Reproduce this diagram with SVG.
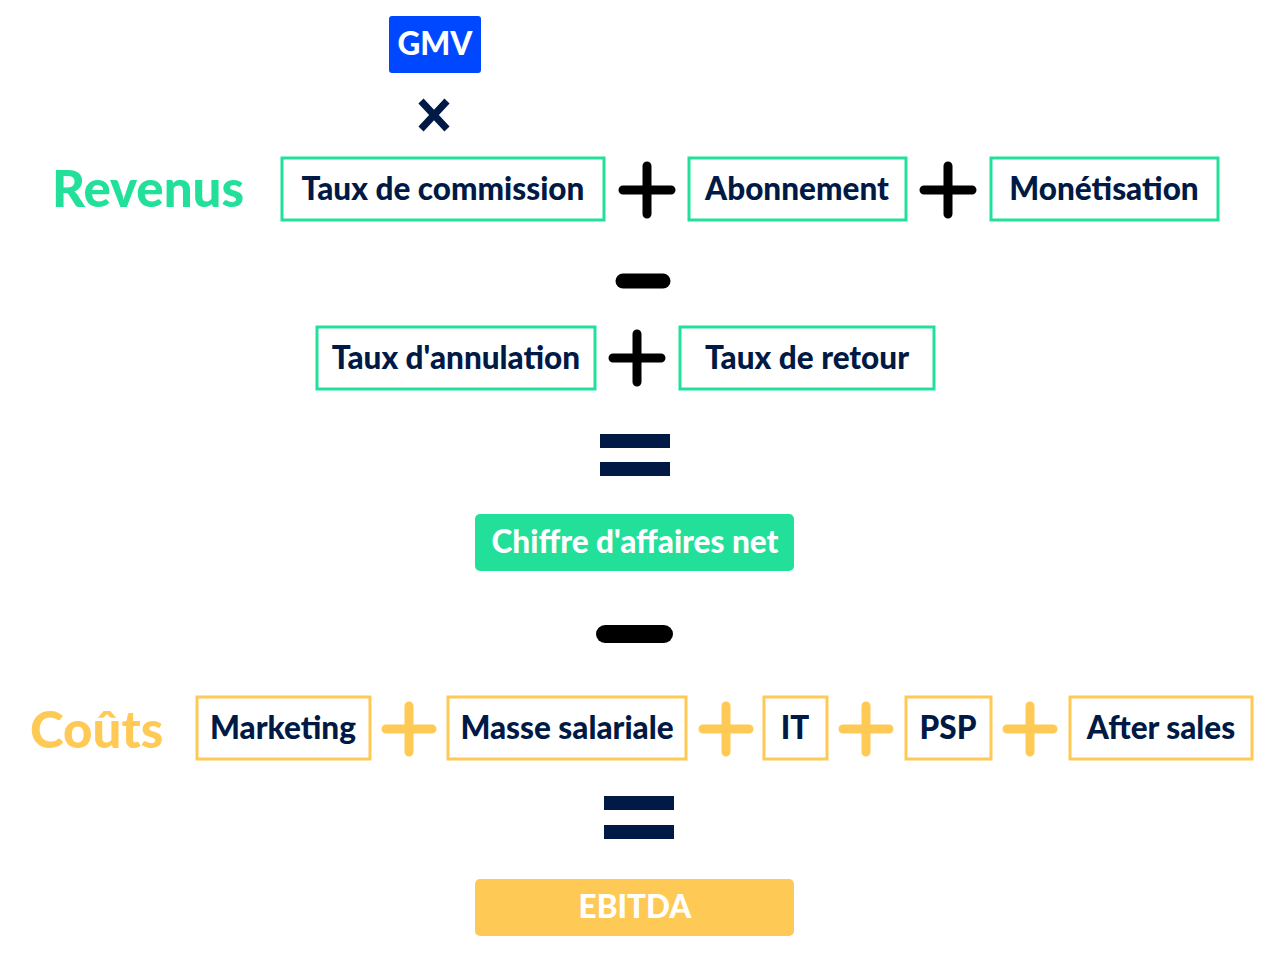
<svg xmlns="http://www.w3.org/2000/svg" width="1272" height="955" viewBox="0 0 1272 955">
<style>
text{font-family:Lato,"Open Sans",sans-serif;font-weight:900;text-anchor:middle}
.t{font-size:31.5px;fill:#001A45}
.g{fill:#fff;stroke:#22E09A;stroke-width:3}
.y{fill:#fff;stroke:#FFC955;stroke-width:3}
.pk{stroke:#000;stroke-width:9;stroke-linecap:round}
.py{stroke:#FFC955;stroke-width:9;stroke-linecap:round}
.big{font-size:51px;text-anchor:start}
</style>
<rect width="1272" height="955" fill="#fff"/>
<g id="gmv"><rect x="389" y="16" width="92" height="57" rx="3" fill="#0048FF"/><text x="435" y="55" class="t" style="fill:#fff">GMV</text></g>
<g id="ops">
<path d="M421 101L447 129M447 101L421 129" stroke="#001A45" stroke-width="7"/>
<path class="pk" d="M623 190H671M647 166V214"/>
<path class="pk" d="M924 190H972M948 166V214"/>
<path class="pk" d="M613 358H661M637 334V382"/>
<path d="M623 281H663" stroke="#000" stroke-width="15" stroke-linecap="round"/>
<path d="M605 634H664" stroke="#000" stroke-width="18" stroke-linecap="round"/>
<rect x="600" y="434" width="70" height="14" fill="#001A45"/><rect x="600" y="462" width="70" height="14" fill="#001A45"/>
<rect x="604" y="796" width="70" height="14" fill="#001A45"/><rect x="604" y="825" width="70" height="14" fill="#001A45"/>
<path class="py" d="M386 729H432M409 706V752"/>
<path class="py" d="M703 729H749M726 706V752"/>
<path class="py" d="M843 729H889M866 706V752"/>
<path class="py" d="M1007 729H1053M1030 706V752"/>
</g>
<text x="52" y="207" class="big" fill="#22E09A">Revenus</text>
<text x="30" y="748" class="big" fill="#FFC955">Coûts</text>
<g id="commission"><rect class="g" x="282" y="158" width="322" height="62"/><text class="t" x="443" y="200">Taux de commission</text></g>
<g id="abonnement"><rect class="g" x="689" y="158" width="217" height="62"/><text class="t" x="797" y="200">Abonnement</text></g>
<g id="monetisation"><rect class="g" x="991" y="158" width="227" height="62"/><text class="t" x="1104" y="200">Monétisation</text></g>
<g id="annulation"><rect class="g" x="317" y="327" width="278" height="62"/><text class="t" x="456" y="369">Taux d'annulation</text></g>
<g id="retour"><rect class="g" x="680" y="327" width="254" height="62"/><text class="t" x="807" y="369">Taux de retour</text></g>
<g id="ca"><rect x="475" y="514" width="319" height="57" rx="5" fill="#22E09A"/><text class="t" x="635" y="553" style="fill:#fff">Chiffre d'affaires net</text></g>
<g id="marketing"><rect class="y" x="197" y="697" width="173" height="62"/><text class="t" x="283" y="739">Marketing</text></g>
<g id="masse"><rect class="y" x="448" y="697" width="238" height="62"/><text class="t" x="567" y="739">Masse salariale</text></g>
<g id="it"><rect class="y" x="764" y="697" width="63" height="62"/><text class="t" x="795" y="739">IT</text></g>
<g id="psp"><rect class="y" x="906" y="697" width="85" height="62"/><text class="t" x="948" y="739">PSP</text></g>
<g id="after"><rect class="y" x="1070" y="697" width="182" height="62"/><text class="t" x="1161" y="739">After sales</text></g>
<g id="ebitda"><rect x="475" y="879" width="319" height="57" rx="5" fill="#FFC955"/><text class="t" x="635" y="918" style="fill:#fff">EBITDA</text></g>
</svg>
